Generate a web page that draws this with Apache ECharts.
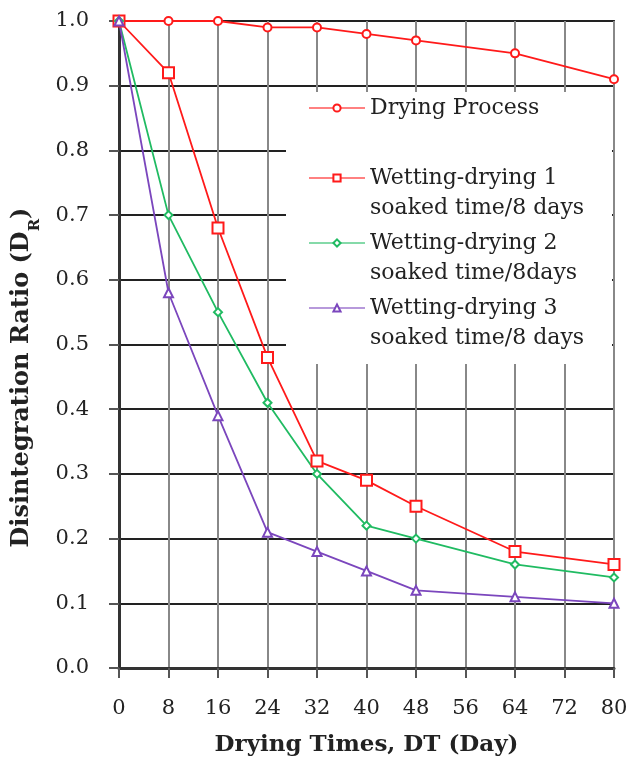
<!DOCTYPE html>
<html>
<head>
<meta charset="utf-8">
<script src="https://cdn.jsdelivr.net/npm/echarts@6/dist/echarts.min.js"></script>
<style>
  html, body { margin: 0; padding: 0; background: #fff; }
  #chart { width: 630px; height: 760px; }
</style>
</head>
<body>
<div id="chart"></div>
<script>
// Drying time (days) at which each disintegration ratio was measured
const dryingDays = [0, 8, 16, 24, 32, 40, 48, 64, 80];

// Disintegration ratio D_R per test series
const dryingProcess = [1.00, 1.00, 1.00, 0.99, 0.99, 0.98, 0.97, 0.95, 0.91];
const wettingDrying1 = [1.00, 0.92, 0.68, 0.48, 0.32, 0.29, 0.25, 0.18, 0.16];
const wettingDrying2 = [1.00, 0.70, 0.55, 0.41, 0.30, 0.22, 0.20, 0.16, 0.14];
const wettingDrying3 = [1.00, 0.58, 0.39, 0.21, 0.18, 0.15, 0.12, 0.11, 0.10];

// Legend names (first line) and their second lines
const seriesNames = ['Drying Process', 'Wetting-drying 1', 'Wetting-drying 2', 'Wetting-drying 3'];
const secondLines = ['', 'soaked time/8 days', 'soaked time/8days', 'soaked time/8 days'];

const SERIF = '"DejaVu Serif", "Liberation Serif", serif';
const RED = '#ff1a1a';
const GREEN = '#20bb62';
const PURPLE = '#7b46bd';

const pairs = (ys) => dryingDays.map((d, i) => [d, ys[i]]);

function lineSeries(name, ys, color, symbol, size) {
  return {
    name: name,
    type: 'line',
    data: pairs(ys),
    symbol: symbol,
    symbolSize: size,
    showAllSymbol: true,
    lineStyle: { color: color, width: 1.8 },
    itemStyle: { color: '#fff', borderColor: color, borderWidth: 2 },
    emphasis: { disabled: true },
    z: 3
  };
}

const legendTops = [92, 162, 227, 292];
const legends = seriesNames.map((n, i) => ({
  data: [n],
  left: 303,
  top: legendTops[i],
  itemWidth: 56,
  itemHeight: 9,
  itemGap: 4,
  textStyle: { fontFamily: SERIF, fontSize: 22, color: '#222' },
  lineStyle: { opacity: 0.55 },
  selectedMode: false
}));

const chart = echarts.init(document.getElementById('chart'), null, { renderer: 'canvas' });

chart.setOption({
  animation: false,
  backgroundColor: '#fff',
  grid: {
    left: 119, right: 16, top: 21, bottom: 92,
    outerBoundsMode: 'none',
    containLabel: false,
    show: true, borderColor: '#333', borderWidth: 2, backgroundColor: 'transparent'
  },
  legend: legends,
  graphic: [
    {
      // white panel behind the legend that hides the grid lines there
      type: 'rect',
      z: 1,
      shape: { x: 286, y: 92, width: 326, height: 272 },
      style: { fill: '#fff' }
    }
  ].concat(secondLines.map((t, i) => ({
    type: 'text',
    z: 2,
    left: 370,
    top: legendTops[i] + 35,
    style: { text: t, font: '22px ' + SERIF, fill: '#222' }
  })).filter(g => g.style.text)),
  xAxis: {
    type: 'value',
    min: 0, max: 80, interval: 8,
    name: 'Drying Times, DT (Day)',
    nameLocation: 'middle',
    nameGap: 66,
    nameTextStyle: { fontFamily: SERIF, fontSize: 23, fontWeight: 'bold', color: '#222' },
    axisLine: { show: true, onZero: false, lineStyle: { color: '#333', width: 3 } },
    axisTick: { show: true, length: 10, lineStyle: { color: '#555', width: 2 } },
    axisLabel: { fontFamily: SERIF, fontSize: 21, color: '#222', margin: 30 },
    splitLine: { show: true, lineStyle: { color: '#888', width: 2 } }
  },
  yAxis: {
    type: 'value',
    min: 0, max: 1, interval: 0.1,
    name: '{a|Disintegration Ratio (D}{s|R}{a|)}',
    nameLocation: 'middle',
    nameGap: 83,
    nameTextStyle: {
      padding: [0, 66, 0, 0],
      rich: {
        a: { fontFamily: SERIF, fontSize: 24, fontWeight: 'bold', color: '#222', lineHeight: 28 },
        s: { fontFamily: SERIF, fontSize: 15, fontWeight: 'bold', color: '#222', verticalAlign: 'bottom', lineHeight: 16, padding: [0, 0, -7, 0] }
      }
    },
    axisLine: { show: true, lineStyle: { color: '#333', width: 3 } },
    axisTick: { show: true, length: 10, lineStyle: { color: '#555', width: 2 } },
    axisLabel: {
      fontFamily: SERIF, fontSize: 21, color: '#222', margin: 30,
      formatter: (v) => v.toFixed(1)
    },
    splitLine: { show: true, lineStyle: { color: '#222', width: 2 } }
  },
  series: [
    lineSeries(seriesNames[0], dryingProcess, RED, 'circle', 8),
    lineSeries(seriesNames[1], wettingDrying1, RED, 'rect', 11),
    lineSeries(seriesNames[2], wettingDrying2, GREEN, 'diamond', 8),
    lineSeries(seriesNames[3], wettingDrying3, PURPLE, 'triangle', 9)
  ]
});
</script>
</body>
</html>
